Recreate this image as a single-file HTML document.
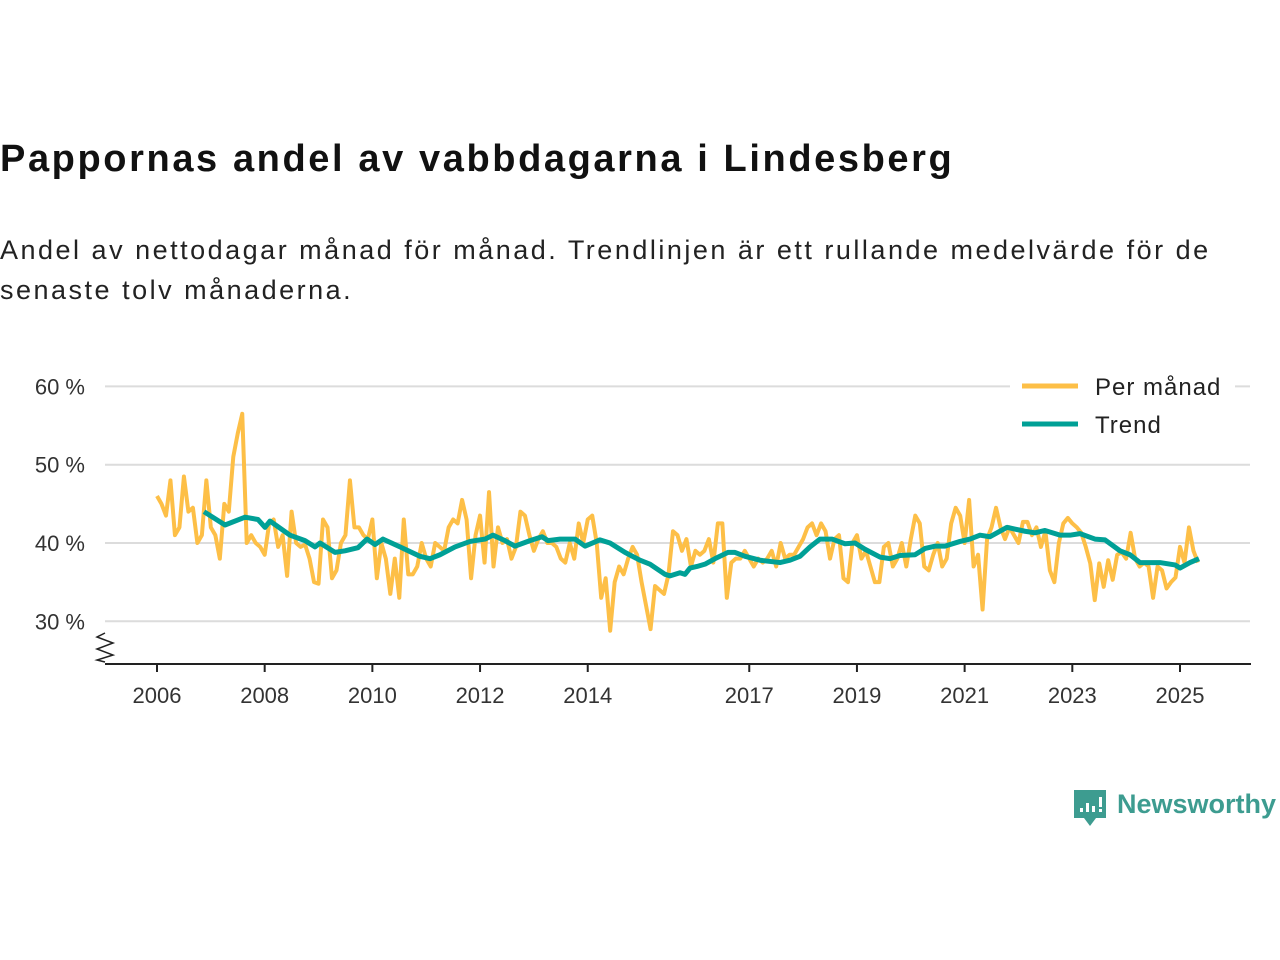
<!DOCTYPE html>
<html><head><meta charset="utf-8">
<style>
body{margin:0;width:1280px;height:960px;background:#fff;font-family:"Liberation Sans","DejaVu Sans",sans-serif;overflow:hidden;position:relative}
h1{position:absolute;left:0;top:138px;margin:0;font-size:38px;font-weight:bold;color:#111;letter-spacing:2.6px;white-space:nowrap}
p.sub{position:absolute;left:0;top:230px;margin:0;font-size:27px;line-height:40px;color:#222;width:1240px;letter-spacing:2.5px}
svg{position:absolute;left:0;top:0}
</style></head><body>
<h1>Pappornas andel av vabbdagarna i Lindesberg</h1>
<p class="sub">Andel av nettodagar månad för månad. Trendlinjen är ett rullande medelvärde för de senaste tolv månaderna.</p>
<svg id="chart" width="1280" height="960"></svg>
<script>
const monthly = [
46,45,43.5,48,41,42,48.5,44,44.5,40,41,48,
42,41,38,45,44,51,54,56.5,40,41,40,39.5,
38.5,42.5,43,39.5,41,35.8,44,40,39.5,39.8,38,35,
34.8,43,42,35.5,36.5,40,41,48,42,42,41,40.5,
43,35.5,40,38,33.5,38,33,43,36,36,37,40,
38,37,40,39.5,39,42,43,42.5,45.5,43,35.5,41,
43.5,37.5,46.5,37,42,40,40.5,38,39.5,44,43.5,41,
39,40.5,41.5,40,40,39.5,38,37.5,40,38,42.5,40,
43,43.5,40,33,35.5,28.8,35,37,36,38,39.5,38.5,
35,32,29,34.5,34,33.5,36,41.5,41,39,40.5,37,
39,38.5,39,40.5,37.5,42.5,42.5,33,37.5,38,38,39,
38,37,38,37.5,38,39,37,40,38,38.5,38.5,39.5,
40.5,42,42.5,41,42.5,41.5,38,40.5,41,35.5,35,40,
41,38,39,37,35,35,39.5,40,37,38,40,37,
40.5,43.5,42.5,37,36.5,38.5,40,37,38,42.5,44.5,43.5,
40,45.5,37,38.5,31.5,40.5,42,44.5,42,40.5,42,41,
40,42.7,42.7,41,42,39.5,41.5,36.5,35,40,42.5,43.2,
42.5,42,41.3,39.5,37.4,32.7,37.4,34.4,37.8,35.3,38.5,38.8,
38,41.3,38,37,37.5,37,33,37,36.5,34.2,35,35.6,
39.5,37.5,42,39,37.5
];
const trendX = [204,225,245,258,265,270,290,305,315,320,335,345,358,367,375,383,400,420,430,440,455,470,485,493,505,515,530,542,548,560,575,585,600,610,625,640,650,665,670,680,685,690,697,705,715,728,735,745,760,780,790,800,810,820,832,845,855,865,880,890,900,915,925,935,945,960,970,980,990,1007,1025,1035,1045,1060,1070,1080,1095,1105,1120,1130,1140,1160,1175,1180,1190,1199];
const trendValues = [44,42.3,43.3,43,42,42.8,41,40.3,39.5,40,38.8,39,39.4,40.5,39.8,40.5,39.5,38.3,38,38.5,39.5,40.2,40.5,41,40.3,39.6,40.3,40.8,40.3,40.5,40.5,39.6,40.4,40,38.8,37.8,37.3,36,35.8,36.2,36,36.8,37,37.3,38,38.8,38.8,38.3,37.8,37.5,37.8,38.3,39.5,40.5,40.5,39.9,40,39.2,38.2,38,38.4,38.5,39.3,39.6,39.6,40.2,40.5,41,40.8,42,41.5,41.3,41.6,41,41,41.2,40.5,40.4,39,38.5,37.5,37.5,37.2,36.8,37.5,38];
const yTicks = [30,40,50,60];
const xTickYears = [2006,2008,2010,2012,2014,2017,2019,2021,2023,2025];
const trendMonths = trendX.map(px => (px-157)/(1023/228));

const svg = document.getElementById('chart');
const NS='http://www.w3.org/2000/svg';
const xOf = m => 157 + m*(1023/228);
const yOf = v => 543 - (v-40)*7.83;
function mk(tag, attrs){const e=document.createElementNS(NS,tag);for(const k in attrs)e.setAttribute(k,attrs[k]);svg.appendChild(e);return e;}

yTicks.forEach(t=>{
  const g=mk('line',{x1:105,x2:1250,y1:yOf(t),y2:yOf(t),stroke:'#dcdcdc','stroke-width':2});
  
  
  const l=mk('text',{x:85,y:yOf(t)+8,'text-anchor':'end','font-size':22,fill:'#333'});
  l.textContent=t+' %';
  
  
});
const ax=mk('line',{x1:105,x2:1251,y1:664,y2:664,stroke:'#222','stroke-width':2});


const br=mk('polyline',{points:'105,633 97,637 113,643 97,649 113,655 97,660 105,662',fill:'none',stroke:'#222','stroke-width':1.5});


xTickYears.forEach(yr=>{
  const x=xOf((yr-2006)*12);
  const t=mk('line',{x1:x,x2:x,y1:664,y2:672,stroke:'#222','stroke-width':2});
  
  
  const l=mk('text',{x:x,y:703,'text-anchor':'middle','font-size':22,fill:'#333'});
  l.textContent=yr;
  
  
});
const mp=mk('polyline',{points:monthly.map((v,i)=>xOf(i)+','+yOf(v)).join(' '),fill:'none',stroke:'#fdbf47','stroke-width':4,'stroke-linejoin':'round'});


const tp=mk('polyline',{points:trendValues.map((v,i)=>xOf(trendMonths[i])+','+yOf(v)).join(' '),fill:'none',stroke:'#00a096','stroke-width':5,'stroke-linejoin':'round'});


const lb=mk('rect',{x:1010,y:368,width:225,height:75,fill:'#fff'});


[['Per månad','#fdbf47',386],['Trend','#00a096',424]].forEach(([n,c,y])=>{
  const s=mk('line',{x1:1022,x2:1078,y1:y,y2:y,stroke:c,'stroke-width':5});
  
  
  const t=mk('text',{x:1095,y:y+9,'font-size':24,fill:'#222','letter-spacing':1});
  t.textContent=n;
  
  
});
const lg=mk('path',{d:'M1074,790 h32 v28 h-10 l-6,8 l-6,-8 h-10 z',fill:'#3d9c90'});


[[1080,808,4],[1086,803,9],[1092,806,6]].forEach(([x,y,h])=>{mk('rect',{x:x,y:y,width:3,height:h,fill:'#fff'});});
mk('rect',{x:1099,y:797,width:3,height:10,fill:'#fff'});
mk('rect',{x:1099,y:809,width:3,height:3,fill:'#fff'});
const lt=mk('text',{x:1117,y:813,'font-size':27,fill:'#3d9c90','font-weight':'bold'});
lt.textContent='Newsworthy';


</script>
</body></html>
